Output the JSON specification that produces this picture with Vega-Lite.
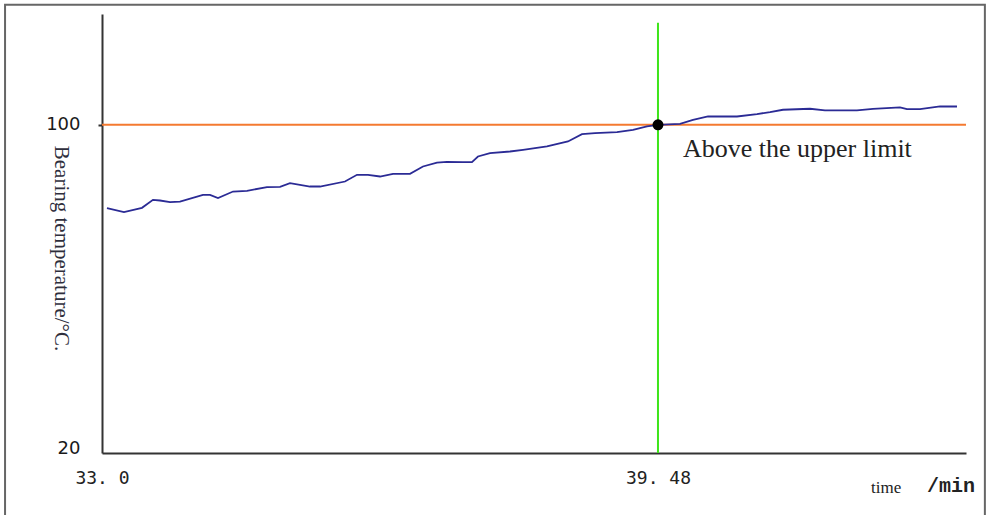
{
  "$schema": "https://vega.github.io/schema/vega-lite/v6.json",
  "width": 864,
  "height": 439,
  "autosize": "none",
  "padding": {"left": 102, "top": 14, "right": 21, "bottom": 62},
  "background": "white",
  "config": {"view": {"stroke": null}},
  "datasets": {
    "temp": [
      {"x": 33.058, "y": 79.68}, {"x": 33.256, "y": 78.71}, {"x": 33.466, "y": 79.76},
      {"x": 33.594, "y": 81.71}, {"x": 33.676, "y": 81.54}, {"x": 33.793, "y": 81.15},
      {"x": 33.909, "y": 81.29}, {"x": 34.177, "y": 82.93}, {"x": 34.259, "y": 82.93},
      {"x": 34.352, "y": 82.12}, {"x": 34.527, "y": 83.73}, {"x": 34.69, "y": 83.9},
      {"x": 34.923, "y": 84.8}, {"x": 35.075, "y": 84.88}, {"x": 35.191, "y": 85.78},
      {"x": 35.424, "y": 84.95}, {"x": 35.541, "y": 84.95}, {"x": 35.832, "y": 86.17},
      {"x": 35.972, "y": 87.8}, {"x": 36.1, "y": 87.8}, {"x": 36.24, "y": 87.39},
      {"x": 36.392, "y": 88.05}, {"x": 36.59, "y": 88.05}, {"x": 36.741, "y": 89.83},
      {"x": 36.904, "y": 90.8}, {"x": 37.021, "y": 90.98}, {"x": 37.207, "y": 90.9},
      {"x": 37.312, "y": 90.9}, {"x": 37.382, "y": 92.27}, {"x": 37.522, "y": 93.1},
      {"x": 37.755, "y": 93.49}, {"x": 37.907, "y": 93.9}, {"x": 38.186, "y": 94.71},
      {"x": 38.431, "y": 95.93}, {"x": 38.594, "y": 97.73}, {"x": 38.746, "y": 97.98},
      {"x": 39.002, "y": 98.22}, {"x": 39.189, "y": 98.78}, {"x": 39.352, "y": 99.59},
      {"x": 39.48, "y": 100.0}, {"x": 39.737, "y": 100.24}, {"x": 39.888, "y": 101.22},
      {"x": 40.063, "y": 102.02}, {"x": 40.401, "y": 102.02}, {"x": 40.634, "y": 102.61},
      {"x": 40.786, "y": 103.1}, {"x": 40.937, "y": 103.66}, {"x": 41.252, "y": 103.9},
      {"x": 41.426, "y": 103.49}, {"x": 41.799, "y": 103.49}, {"x": 41.986, "y": 103.9},
      {"x": 42.301, "y": 104.22}, {"x": 42.382, "y": 103.83}, {"x": 42.534, "y": 103.83},
      {"x": 42.767, "y": 104.46}, {"x": 42.965, "y": 104.46}
    ],
    "limit": [{"x": 33, "x2": 43.07, "y": 100}],
    "cross": [{"x": 39.48, "y": 20, "y2": 124.88}],
    "dot": [{"x": 39.48, "y": 100}],
    "frame": [{"x": 31.87, "x2": 43.29, "y": 129.27, "y2": 4.63}],
    "note": [{"x": 39.771, "y": 92.2, "label": "Above the upper limit"}],
    "time": [{"x": 41.963, "y": 10.24, "label": "time"}],
    "unit": [{"x": 42.615, "y": 10.49, "label": "/min"}]
  },
  "encoding": {
    "x": {
      "field": "x", "type": "quantitative",
      "scale": {"domain": [33, 43.07], "nice": false, "zero": false},
      "axis": {
        "values": [33, 39.48],
        "labelExpr": "datum.value == 33 ? '33. 0' : '39. 48'",
        "labelFont": "DejaVu Sans Mono", "labelFontSize": 18, "labelColor": "#222",
        "labelPadding": 16, "tickSize": 0, "grid": false, "title": null,
        "domainColor": "#333", "domainWidth": 2, "labelFlush": false, "labelOverlap": false
      }
    },
    "y": {
      "field": "y", "type": "quantitative",
      "scale": {"domain": [20, 127], "nice": false, "zero": false},
      "axis": {
        "values": [20, 100],
        "labelFont": "DejaVu Sans", "labelFontSize": 18, "labelFontWeight": 500, "labelColor": "#1a1a1a",
        "labelPadding": 18, "tickSize": 4, "tickColor": "#333", "tickWidth": 2,
        "tickOpacity": {"condition": {"test": "datum.value == 20", "value": 0}, "value": 1},
        "labelBaseline": {"condition": {"test": "datum.value == 20", "value": "alphabetic"}, "value": "middle"},
        "grid": false, "domainColor": "#333", "domainWidth": 2, "labelOverlap": false,
        "title": "Bearing temperature/°C.", "titleFont": "Liberation Serif", "titleFontSize": 21,
        "titleFontWeight": "normal", "titleColor": "#2e2e3c", "titleAngle": 90,
        "titleX": -42, "titleY": 234, "titleAlign": "center", "titleBaseline": "middle"
      }
    }
  },
  "layer": [
    {
      "data": {"name": "frame"},
      "mark": {"type": "rect", "fillOpacity": 0, "stroke": "#666", "strokeWidth": 2, "clip": false},
      "encoding": {"x2": {"field": "x2"}, "y2": {"field": "y2"}}
    },
    {
      "data": {"name": "limit"},
      "mark": {"type": "rule", "color": "#f47a30", "strokeWidth": 2},
      "encoding": {"x2": {"field": "x2"}}
    },
    {
      "data": {"name": "cross"},
      "mark": {"type": "rule", "color": "#3ee51a", "strokeWidth": 2},
      "encoding": {"y2": {"field": "y2"}}
    },
    {
      "data": {"name": "temp"},
      "mark": {"type": "line", "color": "#2b2b95", "strokeWidth": 1.8}
    },
    {
      "data": {"name": "dot"},
      "mark": {"type": "point", "filled": true, "color": "#000", "size": 120, "opacity": 1}
    },
    {
      "data": {"name": "note"},
      "mark": {"type": "text", "font": "Liberation Serif", "fontSize": 26, "align": "left", "baseline": "alphabetic", "color": "#222", "clip": false},
      "encoding": {"text": {"field": "label"}}
    },
    {
      "data": {"name": "time"},
      "mark": {"type": "text", "font": "Liberation Serif", "fontSize": 17, "align": "left", "baseline": "alphabetic", "color": "#222", "clip": false},
      "encoding": {"text": {"field": "label"}}
    },
    {
      "data": {"name": "unit"},
      "mark": {"type": "text", "font": "Liberation Mono", "fontWeight": "bold", "fontSize": 20, "align": "left", "baseline": "alphabetic", "color": "#222", "clip": false},
      "encoding": {"text": {"field": "label"}}
    }
  ]
}
